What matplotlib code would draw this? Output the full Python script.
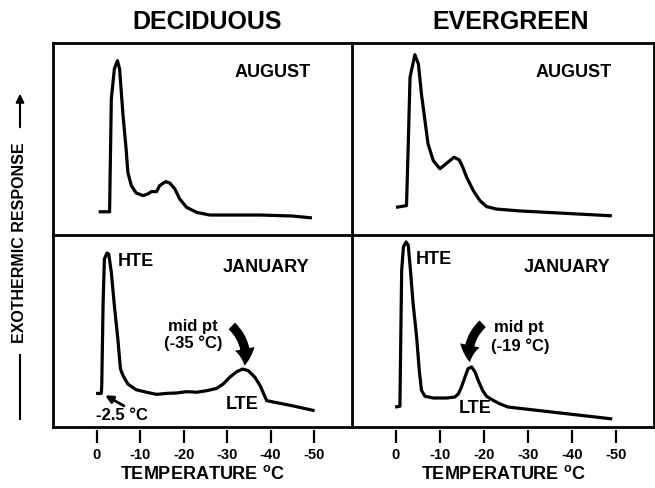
import matplotlib
matplotlib.use('Agg')
import matplotlib.pyplot as plt
from matplotlib.patches import FancyArrowPatch
from matplotlib.lines import Line2D

plt.rcParams['font.family'] = ['Liberation Sans', 'DejaVu Sans']
plt.rcParams['font.weight'] = 'bold'
plt.rcParams['mathtext.fontset'] = 'custom'
plt.rcParams['mathtext.rm'] = 'Liberation Sans'

# ---------------- data (temperature in deg C, response in arbitrary units 0-100) -------------
dec_aug_t = [-0.5, -3.0, -3.4, -4.1, -4.8, -5.3, -6.1, -6.8, -7.2, -8.0, -9.1, -10.7, -11.8,
             -12.6, -13.8, -14.5, -15.9, -16.8, -18.0, -19.1, -20.7, -23.0, -26.0, -37.6, -44.9, -49.5]
dec_aug_r = [12.1, 12.1, 70.8, 86.5, 90.8, 86.5, 62.0, 44.8, 32.6, 25.7, 21.9, 20.5, 21.4,
             22.6, 22.6, 25.7, 27.8, 27.1, 24.0, 18.8, 14.4, 11.8, 10.4, 10.4, 9.9, 8.9]

eve_aug_t = [0.0, -2.4, -2.8, -3.2, -4.3, -5.1, -5.8, -6.6, -7.3, -8.5, -10.0, -11.5, -13.2,
             -14.4, -15.2, -16.1, -17.6, -19.1, -20.6, -22.9, -28.4, -49.1]
eve_aug_r = [14.4, 15.3, 47.4, 82.1, 93.9, 89.1, 73.4, 59.5, 47.4, 38.7, 34.5, 37.3, 40.5,
             39.1, 35.3, 30.0, 23.1, 17.9, 14.8, 13.5, 12.5, 10.0]

dec_jan_t = [0.1, -1.1, -1.2, -1.5, -1.8, -2.4, -2.8, -3.4, -4.1, -4.9, -5.5, -6.1, -7.2, -9.1,
             -11.5, -13.8, -16.1, -18.4, -20.7, -23.0, -25.3, -27.6, -29.1, -30.6, -32.2, -33.6,
             -34.9, -36.4, -37.6, -39.1, -44.9, -50.1]
dec_jan_r = [17.5, 17.5, 21.5, 63.2, 87.5, 90.6, 90.1, 80.6, 63.2, 45.8, 30.2, 26.7, 22.4, 19.4,
             18.1, 17.0, 17.5, 17.7, 18.4, 18.1, 18.9, 20.1, 22.4, 25.9, 28.8, 30.2,
             29.3, 25.9, 21.5, 13.7, 11.1, 8.5]

eve_jan_t = [0.2, -0.9, -1.1, -1.3, -1.7, -2.3, -2.8, -3.3, -3.9, -4.7, -5.3, -5.8, -6.6, -8.5,
             -11.5, -13.4, -14.2, -14.9, -15.7, -16.4, -17.2, -18.0, -18.7, -19.7, -20.6, -22.1,
             -23.6, -25.5, -49.2]
eve_jan_r = [10.4, 10.8, 46.9, 81.6, 93.8, 96.4, 94.6, 81.6, 64.2, 46.9, 29.5, 19.1, 16.0, 15.1,
             15.1, 15.6, 17.3, 20.8, 26.0, 30.4, 31.3, 28.6, 24.3, 19.1, 16.0, 13.9,
             12.1, 10.4, 4.2]

tick_vals = [0, -10, -20, -30, -40, -50]
tick_labels = ['0', '-10', '-20', '-30', '-40', '-50']
col_titles = ['DECIDUOUS', 'EVERGREEN']
row_labels = ['AUGUST', 'JANUARY']

# ---------------- figure ----------------
W, H = 655, 489
fig = plt.figure(figsize=(W / 100, H / 100), dpi=100)

def ax_at(x0, y0, x1, y1):
    return fig.add_axes([x0 / W, 1 - y1 / H, (x1 - x0) / W, (y1 - y0) / H])

XL, XM, XR = 53, 352, 654
YT, YM, YB = 44, 236, 428

axes = {
    ('dec', 'aug'): ax_at(XL, YT, XM, YM),
    ('eve', 'aug'): ax_at(XM, YT, XR, YM),
    ('dec', 'jan'): ax_at(XL, YM, XM, YB),
    ('eve', 'jan'): ax_at(XM, YM, XR, YB),
}
series = {
    ('dec', 'aug'): (dec_aug_t, dec_aug_r),
    ('eve', 'aug'): (eve_aug_t, eve_aug_r),
    ('dec', 'jan'): (dec_jan_t, dec_jan_r),
    ('eve', 'jan'): (eve_jan_t, eve_jan_r),
}

for key, ax in axes.items():
    t, r = series[key]
    ax.plot(t, r, color='black', lw=2.3, solid_joinstyle='round', solid_capstyle='butt')
    ax.set_xlim(10, -58.7)
    ax.set_ylim(0, 100)
    ax.set_yticks([])
    for s in ax.spines.values():
        s.set_visible(False)
    ax.patch.set_alpha(0)
    if key[1] == 'jan':
        ax.spines['bottom'].set_position(('outward', 2.5))
        ax.set_xticks(tick_vals)
        ax.set_xticklabels(tick_labels, fontsize=10.5, fontweight='bold')
        ax.tick_params(axis='x', direction='out', length=9, width=1.6, pad=3)
        ax.set_xlabel('TEMPERATURE $^{\\mathrm{o}}$C', fontsize=13, fontweight='bold', labelpad=2)
    else:
        ax.set_xticks([])
    ax.text(-40.5 if key[1] == 'aug' else -39, 85 if key[1] == 'aug' else 83.6,
            row_labels[0] if key[1] == 'aug' else row_labels[1],
            fontsize=13, fontweight='bold', ha='center', va='center')

# frame lines
lw_frame = 2.0
frame_segs = [((XL, XR), (YT, YT)), ((XL, XR), (YB, YB)), ((XL, XL), (YT, YB)),
              ((XR, XR), (YT, YB)), ((XM, XM), (YT, YB)), ((XL, XR), (YM, YM))]
for xs, ys in frame_segs:
    fig.add_artist(Line2D([x / W for x in xs], [1 - y / H for y in ys],
                          transform=fig.transFigure, color='black', lw=lw_frame,
                          solid_capstyle='projecting'))

# column titles
fig.text(207 / W, 1 - 22 / H, col_titles[0], fontsize=18, fontweight='bold', ha='center', va='center')
fig.text(511 / W, 1 - 22 / H, col_titles[1], fontsize=18, fontweight='bold', ha='center', va='center')

# y label with arrow
fig.text(20 / W, 1 - 243 / H, 'EXOTHERMIC RESPONSE', rotation=90, fontsize=11.5,
         fontweight='bold', ha='center', va='center')
fig.add_artist(Line2D([20 / W, 20 / W], [1 - 420 / H, 1 - 356 / H], transform=fig.transFigure,
                      color='black', lw=1.5))
fig.add_artist(FancyArrowPatch((20 / W, 1 - 131 / H), (20 / W, 1 - 92 / H),
                               transform=fig.transFigure, arrowstyle='-|>', mutation_scale=12,
                               color='black', lw=1.5))

# annotations - deciduous January
axd = axes[('dec', 'jan')]
axd.text(-4.8, 86.5, 'HTE', fontsize=13, fontweight='bold', ha='left', va='center')
axd.text(-22.2, 53.0, 'mid pt', fontsize=12, fontweight='bold', ha='center', va='center')
axd.text(-22.2, 44.0, '(-35 °C)', fontsize=12, fontweight='bold', ha='center', va='center')
axd.text(-33.4, 12.0, 'LTE', fontsize=13, fontweight='bold', ha='center', va='center')
axd.text(-5.8, 6.3, '-2.5 °C', fontsize=12, fontweight='bold', ha='center', va='center')
axd.add_patch(FancyArrowPatch((-30.6, 53.6), (-33.9, 30.5), connectionstyle='arc3,rad=-0.3',
                              arrowstyle='simple,head_width=1.3,head_length=1.1,tail_width=0.6',
                              mutation_scale=11, color='black', lw=0))
axd.add_patch(FancyArrowPatch((-6.3, 11.0), (-2.0, 16.5), arrowstyle='-|>', mutation_scale=11,
                              color='black', lw=2, shrinkA=0, shrinkB=0))

# annotations - evergreen January
axe = axes[('eve', 'jan')]
axe.text(-4.5, 88.0, 'HTE', fontsize=13, fontweight='bold', ha='left', va='center')
axe.text(-28.0, 52.1, 'mid pt', fontsize=12, fontweight='bold', ha='center', va='center')
axe.text(-28.2, 42.7, '(-19 °C)', fontsize=12, fontweight='bold', ha='center', va='center')
axe.text(-18.0, 9.9, 'LTE', fontsize=13, fontweight='bold', ha='center', va='center')
axe.add_patch(FancyArrowPatch((-20.2, 54.7), (-16.9, 32.3), connectionstyle='arc3,rad=0.3',
                              arrowstyle='simple,head_width=1.3,head_length=1.1,tail_width=0.6',
                              mutation_scale=11, color='black', lw=0))

fig.savefig('out.png', dpi=100)
